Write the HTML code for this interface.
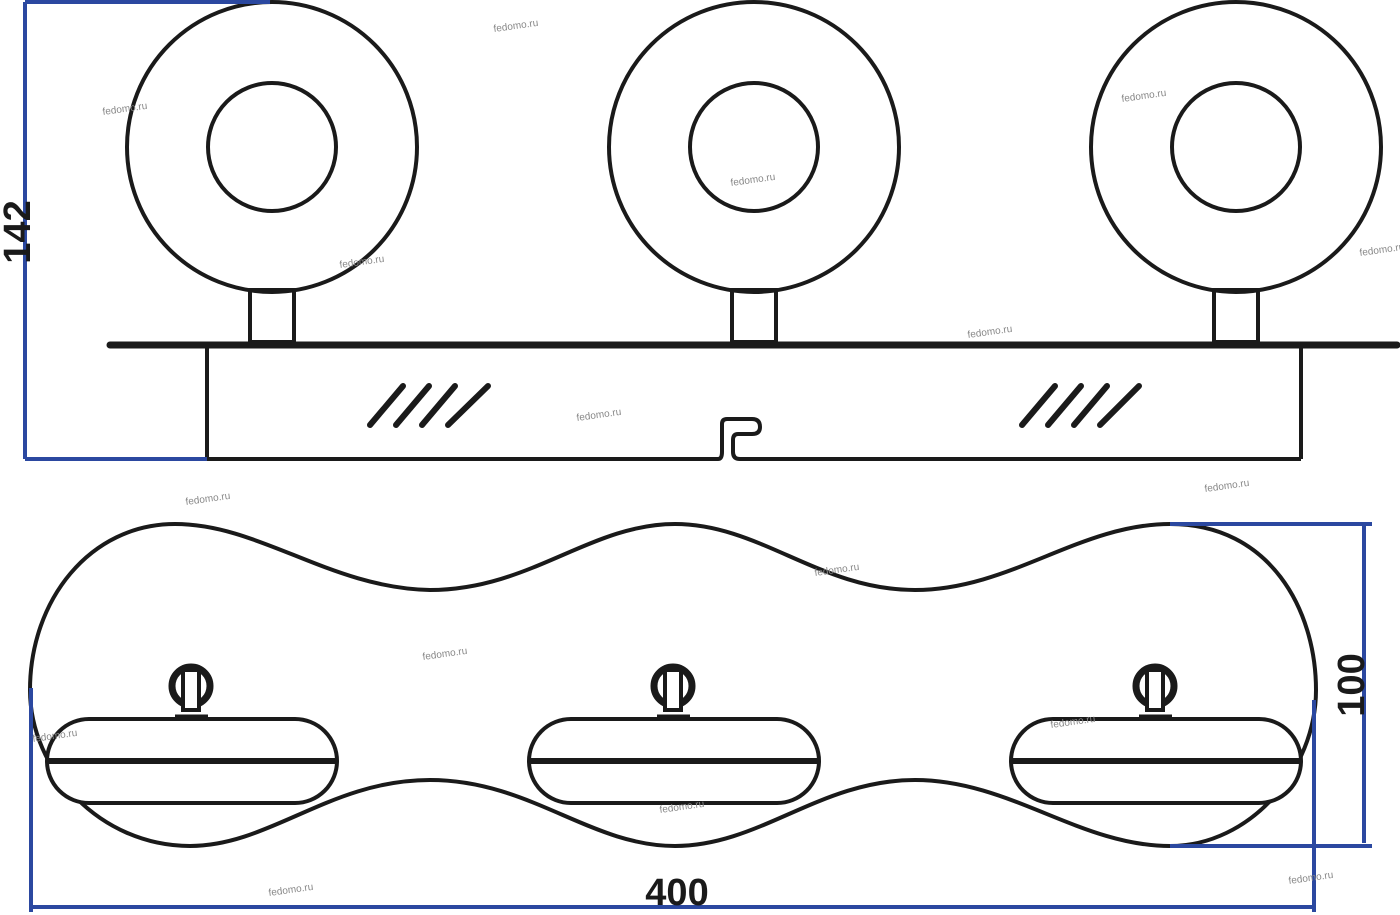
<!DOCTYPE html>
<html><head><meta charset="utf-8"><style>
html,body{margin:0;padding:0;background:#fff;}
svg{display:block;}
</style></head><body>
<svg width="1400" height="915" viewBox="0 0 1400 915" xmlns="http://www.w3.org/2000/svg">
<g fill="none" stroke="#1a1a1a" stroke-width="4">
  <!-- top view circles -->
  <circle cx="272" cy="147" r="145"/><circle cx="272" cy="147" r="64"/>
  <circle cx="754" cy="147" r="145"/><circle cx="754" cy="147" r="64"/>
  <circle cx="1236" cy="147" r="145"/><circle cx="1236" cy="147" r="64"/>
  <rect x="250" y="290" width="44" height="52"/>
  <rect x="732" y="290" width="44" height="52"/>
  <rect x="1214" y="290" width="44" height="52"/>
  <line x1="110" y1="345" x2="1397" y2="345" stroke-width="7" stroke-linecap="round"/>
  <line x1="207" y1="348" x2="207" y2="459"/>
  <line x1="1301" y1="348" x2="1301" y2="459"/>
  <path d="M207,459 H718 Q722,459 722,452 V424 Q722,419 727,419 H752 Q760,419 760,427 Q760,434 752,434 H738 Q733,434 733,440 V452 Q733,459 740,459 H1301"/>
  <g stroke-width="6" stroke-linecap="round">
    <line x1="370" y1="425" x2="403" y2="386"/><line x1="396" y1="425" x2="429" y2="386"/>
    <line x1="422" y1="425" x2="455" y2="386"/><line x1="448" y1="425" x2="488" y2="386"/>
    <line x1="1022" y1="425" x2="1055" y2="386"/><line x1="1048" y1="425" x2="1081" y2="386"/>
    <line x1="1074" y1="425" x2="1107" y2="386"/><line x1="1100" y1="425" x2="1139" y2="386"/>
  </g>
  <!-- bottom outline -->
  <path d="M175,524 C260,524 330,588 430,590 C530,590 590,524 675,524 C760,524 820,590 915,590 C1010,590 1080,524 1170,524 C1270,524 1316,610 1316,690 C1316,770 1250,846 1170,846 C1080,846 1010,780 915,780 C820,780 760,846 675,846 C590,846 530,780 430,780 C330,780 270,846 190,846 C100,846 30,770 30,690 C30,600 90,524 175,524 Z"/>
  <!-- lamps -->
  <g id="l">
    <rect x="47" y="719" width="290" height="84" rx="42" fill="#fff"/>
    <line x1="47" y1="761" x2="337" y2="761" stroke-width="6"/>
    <circle cx="191" cy="686" r="19" stroke-width="7"/>
    <rect x="183" y="670" width="16" height="40" fill="#fff" stroke-width="4"/>
    <line x1="175" y1="717" x2="208" y2="717" stroke-width="5"/>
  </g>
  <use href="#l" x="482"/>
  <use href="#l" x="964"/>
</g>
<!-- dimensions -->
<g stroke="#2b48a0" stroke-width="4" fill="none">
  <line x1="25" y1="2" x2="270" y2="2"/>
  <line x1="25" y1="2" x2="25" y2="459"/>
  <line x1="25" y1="459" x2="207" y2="459"/>
  <line x1="1170" y1="524" x2="1372" y2="524"/>
  <line x1="1170" y1="846" x2="1372" y2="846"/>
  <line x1="1364" y1="526" x2="1364" y2="843"/>
  <line x1="31" y1="688" x2="31" y2="912"/>
  <line x1="1314" y1="700" x2="1314" y2="912"/>
  <line x1="31" y1="907" x2="1314" y2="907"/>
</g>
<g font-family="Liberation Sans, sans-serif" font-weight="bold" fill="#1a1a1a" font-size="38">
  <text x="0" y="0" transform="translate(30,232) rotate(-90)" text-anchor="middle">142</text>
  <text x="0" y="0" transform="translate(1364,685) rotate(-90)" text-anchor="middle">100</text>
  <text x="677" y="905" text-anchor="middle">400</text>
</g>
<g font-family="Liberation Sans, sans-serif" fill="#888" font-size="10">
  <text transform="translate(494,32) rotate(-8)">fedomo.ru</text>
  <text transform="translate(103,115) rotate(-8)">fedomo.ru</text>
  <text transform="translate(1122,102) rotate(-8)">fedomo.ru</text>
  <text transform="translate(731,186) rotate(-8)">fedomo.ru</text>
  <text transform="translate(340,268) rotate(-8)">fedomo.ru</text>
  <text transform="translate(1360,256) rotate(-8)">fedomo.ru</text>
  <text transform="translate(968,338) rotate(-8)">fedomo.ru</text>
  <text transform="translate(577,421) rotate(-8)">fedomo.ru</text>
  <text transform="translate(186,505) rotate(-8)">fedomo.ru</text>
  <text transform="translate(1205,492) rotate(-8)">fedomo.ru</text>
  <text transform="translate(815,576) rotate(-8)">fedomo.ru</text>
  <text transform="translate(423,660) rotate(-8)">fedomo.ru</text>
  <text transform="translate(33,742) rotate(-8)">fedomo.ru</text>
  <text transform="translate(1051,728) rotate(-8)">fedomo.ru</text>
  <text transform="translate(660,813) rotate(-8)">fedomo.ru</text>
  <text transform="translate(269,896) rotate(-8)">fedomo.ru</text>
  <text transform="translate(1289,884) rotate(-8)">fedomo.ru</text>
</g>
</svg>
</body></html>
